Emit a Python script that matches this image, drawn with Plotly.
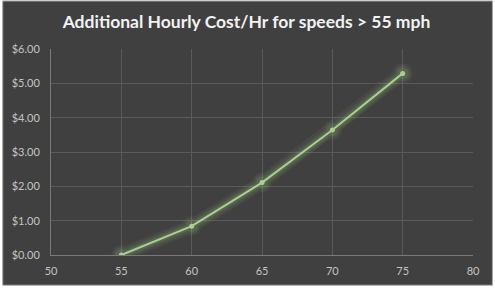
import plotly.graph_objects as go

speeds = [55, 60, 65, 70, 75]
cost = [0.00, 0.84, 2.11, 3.64, 5.29]
x_ticks = [50, 55, 60, 65, 70, 75, 80]
y_ticks = [0, 1, 2, 3, 4, 5, 6]
y_labels = ["$%.2f" % v for v in y_ticks]

W, H = 495, 289
ml, mr, mt, mb = 49, 22, 49, 32
pw, ph = W - ml - mr, H - mt - mb


def px_x(p):
    return (p - ml) / pw


def px_y(p):
    return 1 - (p - mt) / ph


fig = go.Figure()
# glow layers
for w, op in [(14, 0.06), (10, 0.08), (6, 0.12)]:
    fig.add_trace(go.Scatter(x=speeds, y=cost, mode="lines+markers",
                             line=dict(color="#a9d18e", width=w),
                             marker=dict(size=w + 6, color="#a9d18e"),
                             opacity=op, hoverinfo="skip", showlegend=False))
fig.add_trace(go.Scatter(x=speeds, y=cost, mode="lines+markers",
                         line=dict(color="#a9d18e", width=2),
                         marker=dict(size=5, color="#a9d18e"),
                         showlegend=False))

fig.update_layout(
    width=W, height=H,
    margin=dict(l=ml, r=mr, t=mt, b=mb),
    paper_bgcolor="#ffffff", plot_bgcolor="rgba(0,0,0,0)",
    title=dict(text="<b>Additional Hourly Cost/Hr for speeds > 55 mph</b>",
               x=0.5 * 493 / W, xanchor="center", y=1 - 22 / H, yanchor="middle",
               font=dict(family="Lato, Open Sans, sans-serif", size=17.5, color="#f2f2f2")),
    font=dict(family="Lato, Open Sans, sans-serif", size=11, color="#c4c4c4"),
    xaxis=dict(range=[50, 80], tickvals=x_ticks, showgrid=True, gridcolor="#5a5a5a",
               gridwidth=1, zeroline=False, showline=True, linecolor="#7a7a7a",
               ticks="", ticklabelstandoff=6, fixedrange=True),
    yaxis=dict(range=[0, 6], tickvals=y_ticks, ticktext=y_labels, showgrid=True,
               gridcolor="#5a5a5a", gridwidth=1, zeroline=False, showline=True,
               linecolor="#7a7a7a", ticks="", ticklabelstandoff=8, fixedrange=True),
    shapes=[dict(type="rect", xref="paper", yref="paper",
                 x0=px_x(0.5), x1=px_x(492.5), y0=px_y(287.5), y1=px_y(0.5),
                 fillcolor="#404040", line=dict(color="#a6a6a6", width=1),
                 layer="below")],
)

fig.write_html("out.html")
